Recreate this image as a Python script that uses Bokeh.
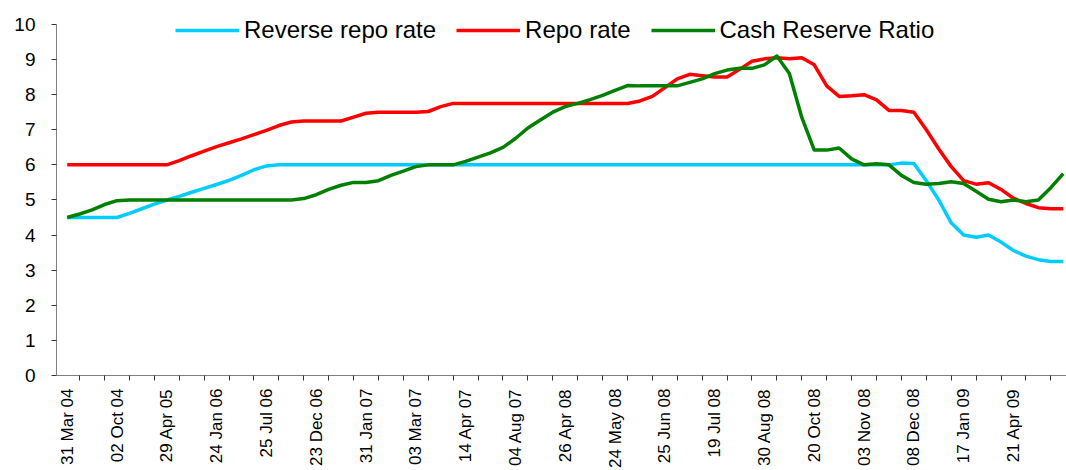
import math
import numpy as np
from bokeh.plotting import figure
from bokeh.models import Range1d, FixedTicker, ColumnDataSource
from bokeh.embed import file_html
from bokeh.resources import INLINE

# ---- data -----------------------------------------------------------------
date_labels = ["31 Mar 04", "02 Oct 04", "29 Apr 05", "24 Jan 06", "25 Jul 06",
               "23 Dec 06", "31 Jan 07", "03 Mar 07", "14 Apr 07", "04 Aug 07",
               "26 Apr 08", "24 May 08", "25 Jun 08", "19 Jul 08", "30 Aug 08",
               "20 Oct 08", "03 Nov 08", "08 Dec 08", "17 Jan 09", "21 Apr 09"]
label_every = 4

reverse_repo = [4.5, 4.5, 4.5, 4.5, 4.5, 4.62, 4.75, 4.88, 5.0, 5.1,
                5.22, 5.33, 5.44, 5.56, 5.7, 5.86, 5.97, 6.0, 6.0, 6.0,
                6.0, 6.0, 6.0, 6.0, 6.0, 6.0, 6.0, 6.0, 6.0, 6.0,
                6.0, 6.0, 6.0, 6.0, 6.0, 6.0, 6.0, 6.0, 6.0, 6.0,
                6.0, 6.0, 6.0, 6.0, 6.0, 6.0, 6.0, 6.0, 6.0, 6.0,
                6.0, 6.0, 6.0, 6.0, 6.0, 6.0, 6.0, 6.0, 6.0, 6.0,
                6.0, 6.0, 6.0, 6.0, 6.0, 6.0, 6.0, 6.05, 6.04, 5.55,
                5.0, 4.35, 4.0, 3.94, 4.0, 3.8, 3.56, 3.4, 3.3, 3.25,
                3.25]

repo = [6.0, 6.0, 6.0, 6.0, 6.0, 6.0, 6.0, 6.0, 6.0, 6.12,
        6.26, 6.39, 6.52, 6.63, 6.74, 6.86, 6.98, 7.12, 7.22, 7.25,
        7.25, 7.25, 7.25, 7.36, 7.47, 7.5, 7.5, 7.5, 7.5, 7.52,
        7.66, 7.75, 7.75, 7.75, 7.75, 7.75, 7.75, 7.75, 7.75, 7.75,
        7.75, 7.75, 7.75, 7.75, 7.75, 7.75, 7.82, 7.95, 8.2, 8.45,
        8.58, 8.54, 8.5, 8.5, 8.72, 8.95, 9.02, 9.05, 9.02, 9.05,
        8.85, 8.25, 7.95, 7.97, 8.0, 7.85, 7.55, 7.55, 7.5, 7.0,
        6.45, 5.95, 5.55, 5.45, 5.49, 5.3, 5.05, 4.9, 4.78, 4.75,
        4.75]

crr = [4.5, 4.6, 4.72, 4.87, 4.98, 5.0, 5.0, 5.0, 5.0, 5.0,
       5.0, 5.0, 5.0, 5.0, 5.0, 5.0, 5.0, 5.0, 5.0, 5.04,
       5.15, 5.3, 5.42, 5.5, 5.5, 5.55, 5.7, 5.82, 5.95, 6.0,
       6.0, 6.0, 6.1, 6.22, 6.34, 6.5, 6.75, 7.05, 7.28, 7.5,
       7.66, 7.75, 7.86, 7.98, 8.12, 8.26, 8.25, 8.25, 8.25, 8.25,
       8.35, 8.45, 8.6, 8.7, 8.75, 8.75, 8.85, 9.1, 8.6, 7.35,
       6.42, 6.42, 6.48, 6.17, 6.0, 6.03, 6.0, 5.7, 5.5, 5.45,
       5.47, 5.52, 5.47, 5.25, 5.02, 4.95, 5.0, 4.95, 5.0, 5.35,
       5.75]

slot = list(range(len(repo)))

# ---- figure ---------------------------------------------------------------
FONT = "Liberation Sans"

p = figure(width=1066, height=470, output_backend="svg", toolbar_location=None,
           x_range=Range1d(-0.86, 80.26), y_range=Range1d(0, 10.511),
           min_border_left=56, min_border_right=0, min_border_top=6,
           min_border_bottom=94)
p.outline_line_color = None
p.grid.visible = False
p.background_fill_color = "white"

src = ColumnDataSource(dict(x=slot, rr=reverse_repo, r=repo, c=crr))
p.line("x", "rr", source=src, line_color="#00CCFF", line_width=3.5,
       line_join="round", legend_label="Reverse repo rate")
p.line("x", "r", source=src, line_color="#FF0000", line_width=3.5,
       line_join="round", legend_label="Repo rate")
p.line("x", "c", source=src, line_color="#008000", line_width=3.5,
       line_join="round", legend_label="Cash Reserve Ratio")

# x axis
label_pos = [i * label_every for i in range(len(date_labels))]
xa = p.xaxis[0]
xa.ticker = FixedTicker(ticks=label_pos,
                        minor_ticks=[k for k in range(-1, len(repo), 2)])
xa.major_label_overrides = {pos: lab for pos, lab in zip(label_pos, date_labels)}
xa.major_label_orientation = math.pi / 2
xa.major_tick_out = 0
xa.major_tick_in = 0
xa.minor_tick_out = 5
xa.minor_tick_in = 0
xa.minor_tick_line_color = "#333333"
xa.axis_line_color = "#808080"
xa.major_label_text_font = FONT
xa.major_label_text_font_size = "17px"
xa.major_label_text_color = "black"
xa.major_label_standoff = 8

# y axis
ya = p.yaxis[0]
ya.bounds = (0, 10)
ya.ticker = FixedTicker(ticks=list(range(0, 11)), minor_ticks=[])
ya.major_tick_out = 5
ya.major_tick_in = 0
ya.major_tick_line_color = "#333333"
ya.axis_line_color = "#808080"
ya.major_label_text_font = FONT
ya.major_label_text_font_size = "19px"
ya.major_label_text_color = "black"
ya.major_label_standoff = 16

# legend
lg = p.legend[0]
lg.orientation = "horizontal"
lg.location = (119, 331)
lg.glyph_width = 64
lg.glyph_height = 20
lg.label_standoff = 5
lg.spacing = 20
lg.padding = 0
lg.margin = 0
lg.border_line_alpha = 0
lg.background_fill_alpha = 0
lg.label_text_font = FONT
lg.label_text_font_size = "24px"
lg.label_text_color = "black"

open("out.html", "w").write(file_html(p, INLINE))
